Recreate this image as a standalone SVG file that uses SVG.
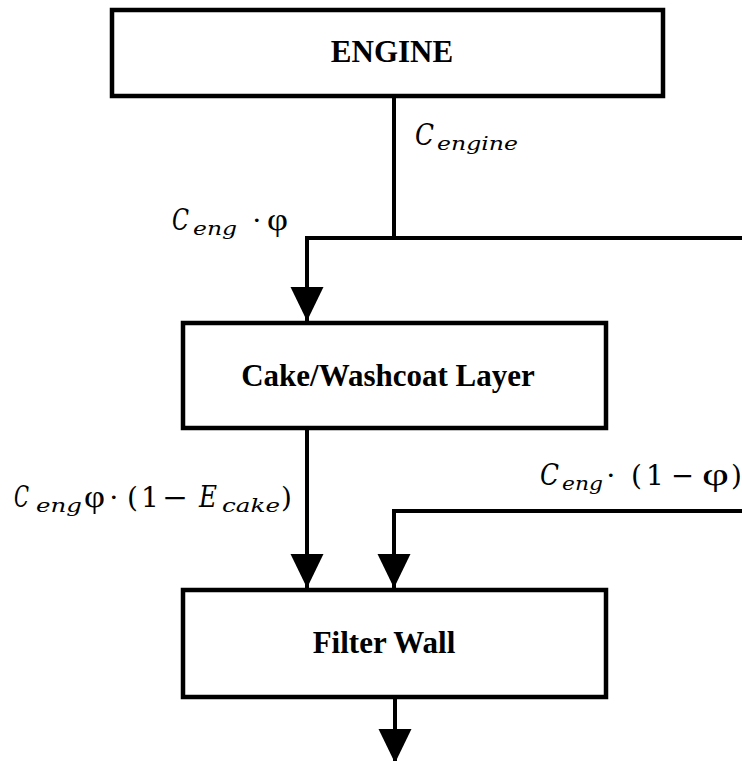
<svg xmlns="http://www.w3.org/2000/svg" width="742" height="761" viewBox="0 0 742 761">
  <style>
    .box { fill: #ffffff; stroke: #000000; stroke-width: 4.5; }
    .title { font-family: "Liberation Serif", "Times New Roman", serif; font-weight: bold; font-size: 31px; fill: #000000; text-anchor: middle; }
    .conn { fill: none; stroke: #000000; stroke-width: 4; }
    .m { font-family: "DejaVu Serif", "Liberation Serif", serif; font-size: 28px; fill: #000000; }
    .mi { font-style: italic; font-size: 30px; }
    .phi { font-family: "Liberation Serif", "DejaVu Serif", serif; font-size: 31px; fill: #000000; }
    .sub { font-family: "DejaVu Serif", "Liberation Serif", serif; font-style: italic; font-size: 19px; fill: #000000; }
  </style>
  <defs>
    <marker id="arrow" markerUnits="userSpaceOnUse" markerWidth="34" markerHeight="34" refX="33" refY="16" orient="auto" viewBox="0 0 33 32">
      <path d="M0,0 L33,16 L0,32 Z" fill="#000000"/>
    </marker>
  </defs>
  <rect width="742" height="761" fill="#ffffff"/>

  <g id="connectors">
    <path class="conn" d="M394,96 L394,238"/>
    <path class="conn" d="M742,238 L307,238 L307,321" marker-end="url(#arrow)"/>
    <path class="conn" d="M307,428 L307,588" marker-end="url(#arrow)"/>
    <path class="conn" d="M742,511 L394,511 L394,588" marker-end="url(#arrow)"/>
    <path class="conn" d="M395,697 L395,763" marker-end="url(#arrow)"/>
  </g>

  <g id="engine">
    <rect class="box" x="112" y="10" width="551" height="86"/>
    <text class="title" x="392" y="62">ENGINE</text>
  </g>

  <g id="cake">
    <rect class="box" x="183" y="323" width="423" height="105"/>
    <text class="title" x="388" y="386">Cake/Washcoat Layer</text>
  </g>

  <g id="filter-wall">
    <rect class="box" x="183" y="590" width="423" height="107"/>
    <text class="title" x="384" y="653">Filter Wall</text>
  </g>

  <g id="labels">
    <g id="label-engine">
      <text class="m mi" x="415" y="145" textLength="19" lengthAdjust="spacingAndGlyphs">C</text>
      <text class="sub" x="437" y="150" textLength="81" lengthAdjust="spacingAndGlyphs">engine</text>
    </g>
    <g id="label-phi">
      <text class="m mi" x="172" y="230" textLength="17" lengthAdjust="spacingAndGlyphs">C</text>
      <text class="sub" x="193" y="235" textLength="44" lengthAdjust="spacingAndGlyphs">eng</text>
      <text class="m" x="252" y="230">⋅</text>
      <text class="phi" x="267" y="230" textLength="21" lengthAdjust="spacingAndGlyphs">φ</text>
    </g>
    <g id="label-cake-out">
      <text class="m mi" x="14" y="507" textLength="15" lengthAdjust="spacingAndGlyphs">C</text>
      <text class="sub" x="36" y="512" textLength="46" lengthAdjust="spacingAndGlyphs">eng</text>
      <text class="phi" x="84" y="507" textLength="21" lengthAdjust="spacingAndGlyphs">φ</text>
      <text class="m" x="109" y="507">⋅</text>
      <text class="m" x="127" y="507">(</text>
      <text class="m" x="141" y="507">1</text>
      <text class="m" x="162" y="507" textLength="26" lengthAdjust="spacingAndGlyphs">−</text>
      <text class="m mi" x="199" y="507" textLength="18" lengthAdjust="spacingAndGlyphs">E</text>
      <text class="sub" x="222" y="512" textLength="58" lengthAdjust="spacingAndGlyphs">cake</text>
      <text class="m" x="281" y="507">)</text>
    </g>
    <g id="label-bypass">
      <text class="m mi" x="540" y="485" textLength="19" lengthAdjust="spacingAndGlyphs">C</text>
      <text class="sub" x="562" y="490" textLength="41" lengthAdjust="spacingAndGlyphs">eng</text>
      <text class="m" x="606" y="485">⋅</text>
      <text class="m" x="631" y="485">(</text>
      <text class="m" x="646" y="485">1</text>
      <text class="m" x="671" y="485" textLength="23" lengthAdjust="spacingAndGlyphs">−</text>
      <text class="phi" x="702" y="485" textLength="27" lengthAdjust="spacingAndGlyphs">φ</text>
      <text class="m" x="731" y="485">)</text>
    </g>
  </g>
</svg>
